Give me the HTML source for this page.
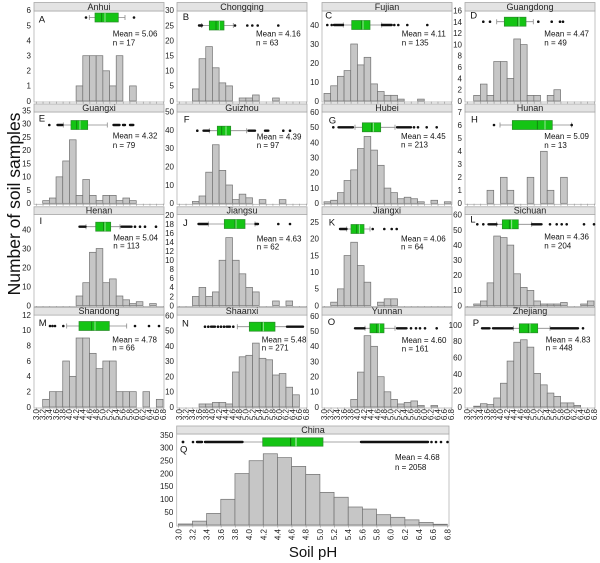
<!DOCTYPE html>
<html><head><meta charset="utf-8"><style>
html,body{margin:0;padding:0;background:#fff;}
svg{display:block;font-family:"Liberation Sans",Arial,sans-serif;}
.b rect{fill:#c6c6c6;stroke:#707070;stroke-width:0.7;}
.fr{fill:none;stroke:#b4b4b4;stroke-width:0.8;}
.st{fill:#e3e3e3;stroke:#a8a8a8;stroke-width:0.8;}
.stt{font-size:9px;fill:#222;text-anchor:middle;}
.yl text{font-size:8px;fill:#222;text-anchor:end;}
.xl text{font-size:8px;fill:#222;text-anchor:end;}
.lt{font-size:9.5px;fill:#111;}
.mt{font-size:8px;fill:#111;}
.wk{stroke:#8a8a8a;stroke-width:0.8;fill:none;}
.bx{fill:#14c414;stroke:#2a8a2a;stroke-width:0.7;}
.md{stroke:#0d7a0d;stroke-width:0.8;}
.mn{stroke:#b8f0b8;stroke-width:0.8;}
.o circle{fill:#111;}
.o line{stroke:#111;stroke-width:2.4;stroke-linecap:round;}
.tk{stroke:#999;stroke-width:2;stroke-dasharray:0.7 5.984;}
</style></head><body>
<svg width="600" height="563" viewBox="0 0 600 563" xmlns="http://www.w3.org/2000/svg">

<!-- Y axis title -->
<text transform="translate(20,204) rotate(-90)" font-size="17.5" text-anchor="middle" fill="#111">Number of soil samples</text>
<text x="313" y="557" font-size="15" text-anchor="middle" fill="#111">Soil pH</text>

<!-- ================= ROW 1 ================= -->
<rect class="fr" x="34" y="11" width="130" height="91"/>
<rect class="fr" x="177" y="11" width="130" height="91"/>
<rect class="fr" x="322" y="11" width="130" height="91"/>
<rect class="fr" x="465" y="11" width="130" height="91"/>
<rect class="st" x="34" y="2.5" width="130" height="8.5"/>
<rect class="st" x="177" y="2.5" width="130" height="8.5"/>
<rect class="st" x="322" y="2.5" width="130" height="8.5"/>
<rect class="st" x="465" y="2.5" width="130" height="8.5"/>
<text class="stt" x="99" y="9.8">Anhui</text>
<text class="stt" x="242" y="9.8">Chongqing</text>
<text class="stt" x="387" y="9.8">Fujian</text>
<text class="stt" x="530" y="9.8">Guangdong</text>

<!-- A Anhui -->
<g transform="translate(36,101)">
<line class="tk" x1="0" y1="1.5" x2="128" y2="1.5"/>
<g class="b">
<rect x="40.10" y="-15.1" width="6.68" height="15.1"/>
<rect x="46.79" y="-45.3" width="6.68" height="45.3"/>
<rect x="53.47" y="-45.3" width="6.68" height="45.3"/>
<rect x="60.16" y="-45.3" width="6.68" height="45.3"/>
<rect x="66.84" y="-30.2" width="6.68" height="30.2"/>
<rect x="73.52" y="-15.1" width="6.68" height="15.1"/>
<rect x="80.21" y="-45.3" width="6.68" height="45.3"/>
<rect x="93.58" y="-15.1" width="6.68" height="15.1"/>
</g>
<g class="yl">
<text x="-5" y="2.8">0</text><text x="-5" y="-12.3">1</text><text x="-5" y="-27.4">2</text><text x="-5" y="-42.5">3</text><text x="-5" y="-57.6">4</text><text x="-5" y="-72.7">5</text><text x="-5" y="-87.8">6</text>
</g>
</g>
<text class="lt" x="38.7" y="22.6">A</text>
<path class="wk" d="M89.3 17.5H95M118.3 17.5H125M89.3 15V20M125 15V20"/>
<rect class="bx" x="95" y="13" width="23.3" height="9"/>
<line class="md" x1="101.7" y1="13" x2="101.7" y2="22"/><line class="mn" x1="105" y1="13" x2="105" y2="22"/>
<g class="o"><circle cx="86" cy="17.5" r="1.3"/><circle cx="134" cy="17.5" r="1.3"/></g>
<text class="mt" x="112.7" y="36.3">Mean = 5.06</text><text class="mt" x="112.7" y="45.3">n = 17</text>

<!-- B Chongqing -->
<g transform="translate(179,101)">
<line class="tk" x1="0" y1="1.5" x2="128" y2="1.5"/>
<g class="b">
<rect x="13.37" y="-12.08" width="6.68" height="12.08"/>
<rect x="20.05" y="-42.28" width="6.68" height="42.28"/>
<rect x="26.74" y="-54.36" width="6.68" height="54.36"/>
<rect x="33.42" y="-33.22" width="6.68" height="33.22"/>
<rect x="40.10" y="-18.12" width="6.68" height="18.12"/>
<rect x="46.79" y="-15.1" width="6.68" height="15.1"/>
<rect x="60.16" y="-3.02" width="6.68" height="3.02"/>
<rect x="66.84" y="-3.02" width="6.68" height="3.02"/>
<rect x="73.52" y="-6.04" width="6.68" height="6.04"/>
<rect x="93.58" y="-3.02" width="6.68" height="3.02"/>
</g>
<g class="yl">
<text x="-5" y="2.8">0</text><text x="-5" y="-12.3">5</text><text x="-5" y="-27.4">10</text><text x="-5" y="-42.5">15</text><text x="-5" y="-57.6">20</text><text x="-5" y="-72.7">25</text><text x="-5" y="-87.8">30</text>
</g>
</g>
<text class="lt" x="182.7" y="20">B</text>
<path class="wk" d="M201.7 25.5H209.3M224 25.5H233.3M201.7 23V28M233.3 23V28"/>
<rect class="bx" x="209.3" y="21" width="14.7" height="9"/>
<line class="md" x1="216" y1="21" x2="216" y2="30"/><line class="mn" x1="219.3" y1="21" x2="219.3" y2="30"/>
<g class="o"><line x1="199" y1="25.5" x2="202" y2="25.5"/><circle cx="235" cy="25.5" r="1.3"/><circle cx="247.3" cy="25.5" r="1.3"/><circle cx="252.3" cy="25.5" r="1.3"/><circle cx="257.7" cy="25.5" r="1.3"/><circle cx="278.3" cy="25.5" r="1.3"/></g>
<text class="mt" x="256" y="36.3">Mean = 4.16</text><text class="mt" x="256" y="45.7">n = 63</text>

<!-- C Fujian -->
<g transform="translate(324,101)">
<line class="tk" x1="0" y1="1.5" x2="128" y2="1.5"/>
<g class="b">
<rect x="0" y="-7.6" width="6.68" height="7.6"/>
<rect x="6.68" y="-15.2" width="6.68" height="15.2"/>
<rect x="13.37" y="-24.7" width="6.68" height="24.7"/>
<rect x="20.05" y="-30.4" width="6.68" height="30.4"/>
<rect x="26.74" y="-57" width="6.68" height="57"/>
<rect x="33.42" y="-36.1" width="6.68" height="36.1"/>
<rect x="40.10" y="-43.7" width="6.68" height="43.7"/>
<rect x="46.79" y="-17.1" width="6.68" height="17.1"/>
<rect x="53.47" y="-9.5" width="6.68" height="9.5"/>
<rect x="60.16" y="-5.7" width="6.68" height="5.7"/>
<rect x="66.84" y="-5.7" width="6.68" height="5.7"/>
<rect x="73.52" y="-1.9" width="6.68" height="1.9"/>
<rect x="93.58" y="-1.9" width="6.68" height="1.9"/>
</g>
<g class="yl">
<text x="-5" y="2.8">0</text><text x="-5" y="-16.2">10</text><text x="-5" y="-35.2">20</text><text x="-5" y="-54.2">30</text><text x="-5" y="-73.2">40</text>
</g>
</g>
<text class="lt" x="325.3" y="18.3">C</text>
<path class="wk" d="M343.3 25H351.7M370 25H381.7M343.3 22.5V27.5M381.7 22.5V27.5"/>
<rect class="bx" x="351.7" y="20.5" width="18.3" height="9"/>
<line class="md" x1="361.7" y1="20.5" x2="361.7" y2="29.5"/><line class="mn" x1="363" y1="20.5" x2="363" y2="29.5"/>
<g class="o"><circle cx="327.3" cy="25" r="1.3"/><circle cx="331.7" cy="25" r="1.3"/><line x1="334" y1="25" x2="343" y2="25"/><line x1="382" y1="25" x2="391.7" y2="25"/><circle cx="394.3" cy="25" r="1.3"/><circle cx="398.3" cy="25" r="1.3"/><circle cx="407.3" cy="25" r="1.3"/><circle cx="427.3" cy="25" r="1.3"/></g>
<text class="mt" x="401.7" y="36.3">Mean = 4.11</text><text class="mt" x="401.7" y="45.7">n = 135</text>

<!-- D Guangdong -->
<g transform="translate(467,101)">
<line class="tk" x1="0" y1="1.5" x2="128" y2="1.5"/>
<g class="b">
<rect x="6.68" y="-5.64" width="6.68" height="5.64"/>
<rect x="13.37" y="-16.92" width="6.68" height="16.92"/>
<rect x="20.05" y="-5.64" width="6.68" height="5.64"/>
<rect x="26.74" y="-39.48" width="6.68" height="39.48"/>
<rect x="33.42" y="-39.48" width="6.68" height="39.48"/>
<rect x="40.10" y="-22.56" width="6.68" height="22.56"/>
<rect x="46.79" y="-62.04" width="6.68" height="62.04"/>
<rect x="53.47" y="-56.4" width="6.68" height="56.4"/>
<rect x="60.16" y="-5.64" width="6.68" height="5.64"/>
<rect x="66.84" y="-5.64" width="6.68" height="5.64"/>
<rect x="80.21" y="-5.64" width="6.68" height="5.64"/>
<rect x="86.89" y="-11.28" width="6.68" height="11.28"/>
</g>
<g class="yl">
<text x="-5" y="2.8">0</text><text x="-5" y="-8.48">2</text><text x="-5" y="-19.76">4</text><text x="-5" y="-31.04">6</text><text x="-5" y="-42.32">8</text><text x="-5" y="-53.6">10</text><text x="-5" y="-64.88">12</text><text x="-5" y="-76.16">14</text><text x="-5" y="-87.44">16</text>
</g>
</g>
<text class="lt" x="470.3" y="18.3">D</text>
<path class="wk" d="M496.7 21.7H504.3M526 21.7H533.3M496.7 19.2V24.2M533.3 19.2V24.2"/>
<rect class="bx" x="504.3" y="17.2" width="21.7" height="9"/>
<line class="md" x1="517.7" y1="17.2" x2="517.7" y2="26.2"/><line class="mn" x1="519" y1="17.2" x2="519" y2="26.2"/>
<g class="o"><circle cx="483.3" cy="21.7" r="1.3"/><circle cx="490" cy="21.7" r="1.3"/><circle cx="538.3" cy="21.7" r="1.3"/><circle cx="551.7" cy="21.7" r="1.3"/><circle cx="560" cy="21.7" r="1.3"/><circle cx="563" cy="21.7" r="1.3"/></g>
<text class="mt" x="544.3" y="36.3">Mean = 4.47</text><text class="mt" x="544.3" y="45.7">n = 49</text>

<!-- ================= ROW 2 ================= -->
<rect class="fr" x="34" y="112" width="130" height="92.3"/>
<rect class="fr" x="177" y="112" width="130" height="92.3"/>
<rect class="fr" x="322" y="112" width="130" height="92.3"/>
<rect class="fr" x="465" y="112" width="130" height="92.3"/>
<rect class="st" x="34" y="104" width="130" height="8"/>
<rect class="st" x="177" y="104" width="130" height="8"/>
<rect class="st" x="322" y="104" width="130" height="8"/>
<rect class="st" x="465" y="104" width="130" height="8"/>
<text class="stt" x="99" y="111">Guangxi</text>
<text class="stt" x="242" y="111">Guizhou</text>
<text class="stt" x="387" y="111">Hubei</text>
<text class="stt" x="530" y="111">Hunan</text>

<!-- E Guangxi -->
<g transform="translate(36,203.3)">
<line class="tk" x1="0" y1="1.5" x2="128" y2="1.5"/>
<g class="b">
<rect x="6.68" y="-2.65" width="6.68" height="2.65"/>
<rect x="13.37" y="-5.29" width="6.68" height="5.29"/>
<rect x="20.05" y="-26.46" width="6.68" height="26.46"/>
<rect x="26.74" y="-42.34" width="6.68" height="42.34"/>
<rect x="33.42" y="-63.5" width="6.68" height="63.5"/>
<rect x="40.10" y="-7.94" width="6.68" height="7.94"/>
<rect x="46.79" y="-23.81" width="6.68" height="23.81"/>
<rect x="53.47" y="-7.94" width="6.68" height="7.94"/>
<rect x="60.16" y="-2.65" width="6.68" height="2.65"/>
<rect x="66.84" y="-7.94" width="6.68" height="7.94"/>
<rect x="73.52" y="-7.94" width="6.68" height="7.94"/>
<rect x="80.21" y="-2.65" width="6.68" height="2.65"/>
<rect x="86.89" y="-5.29" width="6.68" height="5.29"/>
<rect x="93.58" y="-2.65" width="6.68" height="2.65"/>
</g>
<g class="yl">
<text x="-5" y="2.8">0</text><text x="-5" y="-10.43">5</text><text x="-5" y="-23.66">10</text><text x="-5" y="-36.89">15</text><text x="-5" y="-50.12">20</text><text x="-5" y="-63.35">25</text><text x="-5" y="-76.58">30</text><text x="-5" y="-89.81">35</text>
</g>
</g>
<text class="lt" x="38.7" y="121.6">E</text>
<path class="wk" d="M63.3 125H71M87.7 125H107.3M63.3 122.5V127.5M107.3 122.5V127.5"/>
<rect class="bx" x="71" y="120.5" width="16.7" height="9"/>
<line class="md" x1="76.7" y1="120.5" x2="76.7" y2="129.5"/><line class="mn" x1="80" y1="120.5" x2="80" y2="129.5"/>
<g class="o"><circle cx="49.3" cy="125" r="1.3"/><line x1="57.5" y1="125" x2="62.5" y2="125"/><line x1="113.5" y1="125" x2="119.5" y2="125"/><line x1="123" y1="125" x2="125" y2="125"/><line x1="130" y1="125" x2="133.3" y2="125"/></g>
<text class="mt" x="112.7" y="138.7">Mean = 4.32</text><text class="mt" x="112.7" y="148">n = 79</text>

<!-- F Guizhou -->
<g transform="translate(179,203.3)">
<line class="tk" x1="0" y1="1.5" x2="128" y2="1.5"/>
<g class="b">
<rect x="13.37" y="-1.83" width="6.68" height="1.83"/>
<rect x="20.05" y="-7.32" width="6.68" height="7.32"/>
<rect x="26.74" y="-31.11" width="6.68" height="31.11"/>
<rect x="33.42" y="-58.56" width="6.68" height="58.56"/>
<rect x="40.10" y="-32.94" width="6.68" height="32.94"/>
<rect x="46.79" y="-18.3" width="6.68" height="18.3"/>
<rect x="53.47" y="-3.66" width="6.68" height="3.66"/>
<rect x="60.16" y="-9.15" width="6.68" height="9.15"/>
<rect x="66.84" y="-5.49" width="6.68" height="5.49"/>
<rect x="80.21" y="-3.66" width="6.68" height="3.66"/>
<rect x="100.26" y="-3.66" width="6.68" height="3.66"/>
</g>
<g class="yl">
<text x="-5" y="2.8">0</text><text x="-5" y="-15.5">10</text><text x="-5" y="-33.8">20</text><text x="-5" y="-52.1">30</text><text x="-5" y="-70.4">40</text><text x="-5" y="-88.7">50</text>
</g>
</g>
<text class="lt" x="183.7" y="122.6">F</text>
<path class="wk" d="M209.3 130.7H217.3M230.7 130.7H246.7M209.3 128.2V133.2M246.7 128.2V133.2"/>
<rect class="bx" x="217.3" y="126.2" width="13.4" height="9"/>
<line class="md" x1="221.7" y1="126.2" x2="221.7" y2="135.2"/><line class="mn" x1="226" y1="126.2" x2="226" y2="135.2"/>
<g class="o"><circle cx="197.3" cy="130.7" r="1.3"/><line x1="203.5" y1="130.7" x2="209" y2="130.7"/><line x1="248.5" y1="130.7" x2="255" y2="130.7"/><line x1="265" y1="130.7" x2="268.3" y2="130.7"/><circle cx="283.3" cy="130.7" r="1.3"/><circle cx="290" cy="130.7" r="1.3"/></g>
<text class="mt" x="256.7" y="139.7">Mean = 4.39</text><text class="mt" x="256.7" y="148">n = 97</text>

<!-- G Hubei -->
<g transform="translate(324,203.3)">
<line class="tk" x1="0" y1="1.5" x2="128" y2="1.5"/>
<g class="b">
<rect x="0" y="-1.52" width="6.68" height="1.52"/>
<rect x="6.68" y="-3.04" width="6.68" height="3.04"/>
<rect x="13.37" y="-10.64" width="6.68" height="10.64"/>
<rect x="20.05" y="-22.8" width="6.68" height="22.8"/>
<rect x="26.74" y="-33.44" width="6.68" height="33.44"/>
<rect x="33.42" y="-54.72" width="6.68" height="54.72"/>
<rect x="40.10" y="-66.88" width="6.68" height="66.88"/>
<rect x="46.79" y="-53.2" width="6.68" height="53.2"/>
<rect x="53.47" y="-38" width="6.68" height="38"/>
<rect x="60.16" y="-15.2" width="6.68" height="15.2"/>
<rect x="66.84" y="-10.64" width="6.68" height="10.64"/>
<rect x="73.52" y="-4.56" width="6.68" height="4.56"/>
<rect x="80.21" y="-6.08" width="6.68" height="6.08"/>
<rect x="86.89" y="-4.56" width="6.68" height="4.56"/>
<rect x="93.58" y="-1.52" width="6.68" height="1.52"/>
<rect x="106.94" y="-3.04" width="6.68" height="3.04"/>
<rect x="120.31" y="-1.52" width="6.68" height="1.52"/>
</g>
<g class="yl">
<text x="-5" y="2.8">0</text><text x="-5" y="-12.4">10</text><text x="-5" y="-27.6">20</text><text x="-5" y="-42.8">30</text><text x="-5" y="-58">40</text><text x="-5" y="-73.2">50</text><text x="-5" y="-88.4">60</text>
</g>
</g>
<text class="lt" x="328.7" y="123.3">G</text>
<path class="wk" d="M355 127.3H362.3M380.7 127.3H395M355 124.8V129.8M395 124.8V129.8"/>
<rect class="bx" x="362.3" y="122.8" width="18.4" height="9"/>
<line class="md" x1="371.7" y1="122.8" x2="371.7" y2="131.8"/><line class="mn" x1="373.3" y1="122.8" x2="373.3" y2="131.8"/>
<g class="o"><circle cx="333.3" cy="127.3" r="1.3"/><line x1="338.5" y1="127.3" x2="353" y2="127.3"/><line x1="397" y1="127.3" x2="411" y2="127.3"/><circle cx="414" cy="127.3" r="1.3"/><circle cx="418" cy="127.3" r="1.3"/><circle cx="426.7" cy="127.3" r="1.3"/><circle cx="436.7" cy="127.3" r="1.3"/></g>
<text class="mt" x="401" y="139">Mean = 4.45</text><text class="mt" x="401" y="147.3">n = 213</text>

<!-- H Hunan -->
<g transform="translate(467,203.3)">
<line class="tk" x1="0" y1="1.5" x2="128" y2="1.5"/>
<g class="b">
<rect x="20.05" y="-13" width="6.68" height="13"/>
<rect x="33.42" y="-26" width="6.68" height="26"/>
<rect x="40.10" y="-13" width="6.68" height="13"/>
<rect x="60.16" y="-26" width="6.68" height="26"/>
<rect x="73.52" y="-52" width="6.68" height="52"/>
<rect x="80.21" y="-13" width="6.68" height="13"/>
<rect x="93.58" y="-26" width="6.68" height="26"/>
</g>
<g class="yl">
<text x="-5" y="2.8">0</text><text x="-5" y="-10.2">1</text><text x="-5" y="-23.2">2</text><text x="-5" y="-36.2">3</text><text x="-5" y="-49.2">4</text><text x="-5" y="-62.2">5</text><text x="-5" y="-75.2">6</text><text x="-5" y="-88.2">7</text>
</g>
</g>
<text class="lt" x="471" y="122.3">H</text>
<path class="wk" d="M500 125H512.3M552.3 125H571.7M500 122.5V127.5M571.7 122.5V127.5"/>
<rect class="bx" x="512.3" y="120.5" width="40" height="9"/>
<line class="md" x1="537.3" y1="120.5" x2="537.3" y2="129.5"/><line class="mn" x1="545" y1="120.5" x2="545" y2="129.5"/>
<g class="o"><circle cx="494" cy="125" r="1.3"/><circle cx="571.7" cy="125" r="1.3"/></g>
<text class="mt" x="544.3" y="139">Mean = 5.09</text><text class="mt" x="544.3" y="148">n = 13</text>

<!-- ================= ROW 3 ================= -->
<rect class="fr" x="34" y="214.5" width="130" height="92"/>
<rect class="fr" x="177" y="214.5" width="130" height="92"/>
<rect class="fr" x="322" y="214.5" width="130" height="92"/>
<rect class="fr" x="465" y="214.5" width="130" height="92"/>
<rect class="st" x="34" y="206.8" width="130" height="7.8"/>
<rect class="st" x="177" y="206.8" width="130" height="7.8"/>
<rect class="st" x="322" y="206.8" width="130" height="7.8"/>
<rect class="st" x="465" y="206.8" width="130" height="7.8"/>
<text class="stt" x="99" y="213.6">Henan</text>
<text class="stt" x="242" y="213.6">Jiangsu</text>
<text class="stt" x="387" y="213.6">Jiangxi</text>
<text class="stt" x="530" y="213.6">Sichuan</text>

<!-- I Henan -->
<g transform="translate(36,305.5)">
<line class="tk" x1="0" y1="1.5" x2="128" y2="1.5"/>
<g class="b">
<rect x="40.10" y="-9.5" width="6.68" height="9.5"/>
<rect x="46.79" y="-22.8" width="6.68" height="22.8"/>
<rect x="53.47" y="-53.2" width="6.68" height="53.2"/>
<rect x="60.16" y="-57" width="6.68" height="57"/>
<rect x="66.84" y="-22.8" width="6.68" height="22.8"/>
<rect x="73.52" y="-26.6" width="6.68" height="26.6"/>
<rect x="80.21" y="-9.5" width="6.68" height="9.5"/>
<rect x="86.89" y="-5.7" width="6.68" height="5.7"/>
<rect x="93.58" y="-1.9" width="6.68" height="1.9"/>
<rect x="100.26" y="-3.8" width="6.68" height="3.8"/>
<rect x="113.63" y="-1.9" width="6.68" height="1.9"/>
</g>
<g class="yl">
<text x="-5" y="2.8">0</text><text x="-5" y="-16.2">10</text><text x="-5" y="-35.2">20</text><text x="-5" y="-54.2">30</text><text x="-5" y="-73.2">40</text>
</g>
</g>
<text class="lt" x="39.5" y="224">I</text>
<path class="wk" d="M86 226.7H95.7M110.7 226.7H120M86 224.2V229.2M120 224.2V229.2"/>
<rect class="bx" x="95.7" y="222.2" width="15" height="9"/>
<line class="md" x1="103.7" y1="222.2" x2="103.7" y2="231.2"/><line class="mn" x1="105" y1="222.2" x2="105" y2="231.2"/>
<g class="o"><line x1="79.5" y1="226.7" x2="85.5" y2="226.7"/><line x1="121.5" y1="226.7" x2="131.5" y2="226.7"/><circle cx="135" cy="226.7" r="1.3"/><circle cx="140" cy="226.7" r="1.3"/><circle cx="145" cy="226.7" r="1.3"/><circle cx="156" cy="226.7" r="1.3"/></g>
<text class="mt" x="113.3" y="240.7">Mean = 5.04</text><text class="mt" x="113.3" y="248.7">n = 113</text>

<!-- J Jiangsu -->
<g transform="translate(179,305.5)">
<line class="tk" x1="0" y1="1.5" x2="128" y2="1.5"/>
<g class="b">
<rect x="13.37" y="-9.05" width="6.68" height="9.05"/>
<rect x="20.05" y="-18.1" width="6.68" height="18.1"/>
<rect x="26.74" y="-9.05" width="6.68" height="9.05"/>
<rect x="33.42" y="-13.58" width="6.68" height="13.58"/>
<rect x="40.10" y="-45.25" width="6.68" height="45.25"/>
<rect x="46.79" y="-67.88" width="6.68" height="67.88"/>
<rect x="53.47" y="-45.25" width="6.68" height="45.25"/>
<rect x="60.16" y="-31.68" width="6.68" height="31.68"/>
<rect x="66.84" y="-18.1" width="6.68" height="18.1"/>
<rect x="73.52" y="-13.58" width="6.68" height="13.58"/>
<rect x="93.58" y="-4.53" width="6.68" height="4.53"/>
<rect x="106.94" y="-4.53" width="6.68" height="4.53"/>
</g>
<g class="yl">
<text x="-5" y="2.8">0</text><text x="-5" y="-6.25">2</text><text x="-5" y="-15.3">4</text><text x="-5" y="-24.35">6</text><text x="-5" y="-33.4">8</text><text x="-5" y="-42.45">10</text><text x="-5" y="-51.5">12</text><text x="-5" y="-60.55">14</text><text x="-5" y="-69.6">16</text><text x="-5" y="-78.65">18</text><text x="-5" y="-87.7">20</text>
</g>
</g>
<text class="lt" x="183" y="226">J</text>
<path class="wk" d="M208.3 224H224.3M245 224H255M208.3 221.5V226.5M255 221.5V226.5"/>
<rect class="bx" x="224.3" y="219.5" width="20.7" height="9"/>
<line class="md" x1="235" y1="219.5" x2="235" y2="228.5"/><line class="mn" x1="236" y1="219.5" x2="236" y2="228.5"/>
<g class="o"><line x1="198.5" y1="224" x2="207.5" y2="224"/><line x1="255.5" y1="224" x2="258" y2="224"/><circle cx="278.3" cy="224" r="1.3"/><circle cx="290" cy="224" r="1.3"/></g>
<text class="mt" x="256.7" y="241.3">Mean = 4.63</text><text class="mt" x="256.7" y="249.7">n = 62</text>

<!-- K Jiangxi -->
<g transform="translate(324,305.5)">
<line class="tk" x1="0" y1="1.5" x2="128" y2="1.5"/>
<g class="b">
<rect x="6.68" y="-3.33" width="6.68" height="3.33"/>
<rect x="13.37" y="-16.65" width="6.68" height="16.65"/>
<rect x="20.05" y="-49.95" width="6.68" height="49.95"/>
<rect x="26.74" y="-63.27" width="6.68" height="63.27"/>
<rect x="33.42" y="-39.96" width="6.68" height="39.96"/>
<rect x="40.10" y="-23.31" width="6.68" height="23.31"/>
<rect x="53.47" y="-3.33" width="6.68" height="3.33"/>
<rect x="60.16" y="-6.66" width="6.68" height="6.66"/>
<rect x="66.84" y="-6.66" width="6.68" height="6.66"/>
</g>
<g class="yl">
<text x="-5" y="2.8">0</text><text x="-5" y="-13.85">5</text><text x="-5" y="-30.5">10</text><text x="-5" y="-47.15">15</text><text x="-5" y="-63.8">20</text><text x="-5" y="-80.45">25</text>
</g>
</g>
<text class="lt" x="328.7" y="225.6">K</text>
<path class="wk" d="M346.7 229H351M364 229H370M346.7 226.5V231.5M370 226.5V231.5"/>
<rect class="bx" x="351" y="224.5" width="13" height="9"/>
<line class="md" x1="356.7" y1="224.5" x2="356.7" y2="233.5"/><line class="mn" x1="359.3" y1="224.5" x2="359.3" y2="233.5"/>
<g class="o"><line x1="340" y1="229" x2="346.5" y2="229"/><circle cx="372.7" cy="229" r="1.3"/><circle cx="384.3" cy="229" r="1.3"/><circle cx="391.7" cy="229" r="1.3"/><circle cx="396.7" cy="229" r="1.3"/></g>
<text class="mt" x="401" y="241.3">Mean = 4.06</text><text class="mt" x="401" y="249.7">n = 64</text>

<!-- L Sichuan -->
<g transform="translate(467,305.5)">
<line class="tk" x1="0" y1="1.5" x2="128" y2="1.5"/>
<g class="b">
<rect x="6.68" y="-1.51" width="6.68" height="1.51"/>
<rect x="13.37" y="-4.53" width="6.68" height="4.53"/>
<rect x="20.05" y="-22.65" width="6.68" height="22.65"/>
<rect x="26.74" y="-69.46" width="6.68" height="69.46"/>
<rect x="33.42" y="-67.95" width="6.68" height="67.95"/>
<rect x="40.10" y="-60.4" width="6.68" height="60.4"/>
<rect x="46.79" y="-31.71" width="6.68" height="31.71"/>
<rect x="53.47" y="-18.12" width="6.68" height="18.12"/>
<rect x="60.16" y="-15.1" width="6.68" height="15.1"/>
<rect x="66.84" y="-4.53" width="6.68" height="4.53"/>
<rect x="73.52" y="-1.51" width="6.68" height="1.51"/>
<rect x="80.21" y="-1.51" width="6.68" height="1.51"/>
<rect x="86.89" y="-1.51" width="6.68" height="1.51"/>
<rect x="93.58" y="-3.02" width="6.68" height="3.02"/>
<rect x="113.63" y="-1.51" width="6.68" height="1.51"/>
<rect x="120.31" y="-4.53" width="6.68" height="4.53"/>
</g>
<g class="yl">
<text x="-5" y="2.8">0</text><text x="-5" y="-12.3">10</text><text x="-5" y="-27.4">20</text><text x="-5" y="-42.5">30</text><text x="-5" y="-57.6">40</text><text x="-5" y="-72.7">50</text><text x="-5" y="-87.8">60</text>
</g>
</g>
<text class="lt" x="470.3" y="222.6">L</text>
<path class="wk" d="M496.7 224.3H502.3M518.3 224.3H531.7M496.7 221.8V226.8M531.7 221.8V226.8"/>
<rect class="bx" x="502.3" y="219.8" width="16" height="9"/>
<line class="md" x1="509.3" y1="219.8" x2="509.3" y2="228.8"/><line class="mn" x1="511.7" y1="219.8" x2="511.7" y2="228.8"/>
<g class="o"><circle cx="477.3" cy="224.3" r="1.3"/><circle cx="483.3" cy="224.3" r="1.3"/><line x1="488.5" y1="224.3" x2="496.5" y2="224.3"/><line x1="532" y1="224.3" x2="541.5" y2="224.3"/><circle cx="550" cy="224.3" r="1.3"/><circle cx="556.7" cy="224.3" r="1.3"/><circle cx="561.7" cy="224.3" r="1.3"/><circle cx="566.7" cy="224.3" r="1.3"/><circle cx="584" cy="224.3" r="1.3"/><circle cx="594" cy="224.3" r="1.3"/></g>
<text class="mt" x="544.3" y="239.7">Mean = 4.36</text><text class="mt" x="544.3" y="248.7">n = 204</text>

<!-- ================= ROW 4 ================= -->
<rect class="fr" x="34" y="315" width="130" height="93"/>
<rect class="fr" x="177" y="315" width="130" height="93"/>
<rect class="fr" x="322" y="315" width="130" height="93"/>
<rect class="fr" x="465" y="315" width="130" height="93"/>
<rect class="st" x="34" y="307.3" width="130" height="7.8"/>
<rect class="st" x="177" y="307.3" width="130" height="7.8"/>
<rect class="st" x="322" y="307.3" width="130" height="7.8"/>
<rect class="st" x="465" y="307.3" width="130" height="7.8"/>
<text class="stt" x="99" y="314.1">Shandong</text>
<text class="stt" x="242" y="314.1">Shaanxi</text>
<text class="stt" x="387" y="314.1">Yunnan</text>
<text class="stt" x="530" y="314.1">Zhejiang</text>

<!-- M Shandong -->
<g transform="translate(36,407)">
<line class="tk" x1="0" y1="1.5" x2="128" y2="1.5"/>
<g class="b">
<rect x="6.68" y="-7.67" width="6.68" height="7.67"/>
<rect x="13.37" y="-15.33" width="6.68" height="15.33"/>
<rect x="20.05" y="-15.33" width="6.68" height="15.33"/>
<rect x="26.74" y="-46" width="6.68" height="46"/>
<rect x="33.42" y="-30.67" width="6.68" height="30.67"/>
<rect x="40.10" y="-69" width="6.68" height="69"/>
<rect x="46.79" y="-69" width="6.68" height="69"/>
<rect x="53.47" y="-53.67" width="6.68" height="53.67"/>
<rect x="60.16" y="-38.33" width="6.68" height="38.33"/>
<rect x="66.84" y="-46" width="6.68" height="46"/>
<rect x="73.52" y="-46" width="6.68" height="46"/>
<rect x="80.21" y="-15.33" width="6.68" height="15.33"/>
<rect x="86.89" y="-15.33" width="6.68" height="15.33"/>
<rect x="93.58" y="-15.33" width="6.68" height="15.33"/>
<rect x="106.94" y="-15.33" width="6.68" height="15.33"/>
<rect x="120.31" y="-7.67" width="6.68" height="7.67"/>
</g>
<g class="yl">
<text x="-5" y="2.8">0</text><text x="-5" y="-12.53">2</text><text x="-5" y="-27.86">4</text><text x="-5" y="-43.19">6</text><text x="-5" y="-58.52">8</text><text x="-5" y="-73.85">10</text><text x="-5" y="-89.18">12</text>
</g>
</g>
<text class="lt" x="38.7" y="326">M</text>
<path class="wk" d="M66.7 326H79M109.3 326H126.7M66.7 323.5V328.5M126.7 323.5V328.5"/>
<rect class="bx" x="79" y="321.5" width="30.3" height="9"/>
<line class="md" x1="91.7" y1="321.5" x2="91.7" y2="330.5"/><line class="mn" x1="95" y1="321.5" x2="95" y2="330.5"/>
<g class="o"><circle cx="50" cy="326" r="1.3"/><circle cx="52.5" cy="326" r="1.3"/><circle cx="55" cy="326" r="1.3"/><circle cx="63.3" cy="326" r="1.3"/><circle cx="135" cy="326" r="1.3"/><circle cx="149" cy="326" r="1.3"/><circle cx="159" cy="326" r="1.3"/></g>
<text class="mt" x="112.3" y="342.3">Mean = 4.78</text><text class="mt" x="112.3" y="350.3">n = 66</text>

<!-- N Shaanxi -->
<g transform="translate(179,407)">
<line class="tk" x1="0" y1="1.5" x2="128" y2="1.5"/>
<g class="b">
<rect x="20.05" y="-3.04" width="6.68" height="3.04"/>
<rect x="26.74" y="-3.04" width="6.68" height="3.04"/>
<rect x="33.42" y="-4.57" width="6.68" height="4.57"/>
<rect x="40.10" y="-4.57" width="6.68" height="4.57"/>
<rect x="46.79" y="-3.04" width="6.68" height="3.04"/>
<rect x="53.47" y="-35" width="6.68" height="35"/>
<rect x="60.16" y="-50.2" width="6.68" height="50.2"/>
<rect x="66.84" y="-51.7" width="6.68" height="51.7"/>
<rect x="73.52" y="-63.9" width="6.68" height="63.9"/>
<rect x="80.21" y="-48.7" width="6.68" height="48.7"/>
<rect x="86.89" y="-47.2" width="6.68" height="47.2"/>
<rect x="93.58" y="-32" width="6.68" height="32"/>
<rect x="100.26" y="-33.5" width="6.68" height="33.5"/>
<rect x="106.94" y="-19.8" width="6.68" height="19.8"/>
<rect x="113.63" y="-12.2" width="6.68" height="12.2"/>
</g>
<g class="yl">
<text x="-5" y="2.8">0</text><text x="-5" y="-12.42">10</text><text x="-5" y="-27.64">20</text><text x="-5" y="-42.86">30</text><text x="-5" y="-58.08">40</text><text x="-5" y="-73.3">50</text><text x="-5" y="-88.52">60</text>
</g>
</g>
<text class="lt" x="182" y="326.6">N</text>
<path class="wk" d="M237.3 326.7H249.3M275 326.7H286M237.3 324.2V329.2"/>
<rect class="bx" x="249.3" y="322.2" width="25.7" height="9"/>
<line class="md" x1="261.7" y1="322.2" x2="261.7" y2="331.2"/><line class="mn" x1="263.3" y1="322.2" x2="263.3" y2="331.2"/>
<g class="o"><circle cx="205" cy="326.7" r="1.3"/><circle cx="208.3" cy="326.7" r="1.3"/><line x1="211" y1="326.7" x2="215" y2="326.7"/><circle cx="218" cy="326.7" r="1.3"/><circle cx="221" cy="326.7" r="1.3"/><circle cx="224" cy="326.7" r="1.3"/><line x1="226.5" y1="326.7" x2="230" y2="326.7"/><circle cx="233.3" cy="326.7" r="1.3"/><line x1="287" y1="326.7" x2="303" y2="326.7"/></g>
<text class="mt" x="261.7" y="342.3">Mean = 5.48</text><text class="mt" x="261.7" y="350.3">n = 271</text>

<!-- O Yunnan -->
<g transform="translate(324,407)">
<line class="tk" x1="0" y1="1.5" x2="128" y2="1.5"/>
<g class="b">
<rect x="26.74" y="-7.58" width="6.68" height="7.58"/>
<rect x="33.42" y="-34.9" width="6.68" height="34.9"/>
<rect x="40.10" y="-71.3" width="6.68" height="71.3"/>
<rect x="46.79" y="-60.7" width="6.68" height="60.7"/>
<rect x="53.47" y="-30.3" width="6.68" height="30.3"/>
<rect x="60.16" y="-15.2" width="6.68" height="15.2"/>
<rect x="66.84" y="-7.58" width="6.68" height="7.58"/>
<rect x="73.52" y="-3.03" width="6.68" height="3.03"/>
<rect x="80.21" y="-4.55" width="6.68" height="4.55"/>
<rect x="86.89" y="-6.07" width="6.68" height="6.07"/>
<rect x="93.58" y="-1.52" width="6.68" height="1.52"/>
<rect x="106.94" y="-1.52" width="6.68" height="1.52"/>
</g>
<g class="yl">
<text x="-5" y="2.8">0</text><text x="-5" y="-12.37">10</text><text x="-5" y="-27.54">20</text><text x="-5" y="-42.71">30</text><text x="-5" y="-57.88">40</text><text x="-5" y="-73.05">50</text><text x="-5" y="-88.22">60</text>
</g>
</g>
<text class="lt" x="327.7" y="325">O</text>
<path class="wk" d="M365 328.3H370M384 328.3H395M365 325.8V330.8M395 325.8V330.8"/>
<rect class="bx" x="370" y="323.8" width="14" height="9"/>
<line class="md" x1="376.7" y1="323.8" x2="376.7" y2="332.8"/><line class="mn" x1="379.3" y1="323.8" x2="379.3" y2="332.8"/>
<g class="o"><line x1="355" y1="328.3" x2="364.5" y2="328.3"/><line x1="397" y1="328.3" x2="406.5" y2="328.3"/><circle cx="411" cy="328.3" r="1.3"/><circle cx="416" cy="328.3" r="1.3"/><circle cx="420" cy="328.3" r="1.3"/><circle cx="425" cy="328.3" r="1.3"/><circle cx="436.7" cy="328.3" r="1.3"/></g>
<text class="mt" x="401.7" y="343">Mean = 4.60</text><text class="mt" x="401.7" y="351.3">n = 161</text>

<!-- P Zhejiang -->
<g transform="translate(467,407)">
<line class="tk" x1="0" y1="1.5" x2="128" y2="1.5"/>
<g class="b">
<rect x="6.68" y="-0.82" width="6.68" height="0.82"/>
<rect x="13.37" y="-3.28" width="6.68" height="3.28"/>
<rect x="20.05" y="-2.46" width="6.68" height="2.46"/>
<rect x="26.74" y="-9.02" width="6.68" height="9.02"/>
<rect x="33.42" y="-23.78" width="6.68" height="23.78"/>
<rect x="40.10" y="-45.92" width="6.68" height="45.92"/>
<rect x="46.79" y="-64.78" width="6.68" height="64.78"/>
<rect x="53.47" y="-67.24" width="6.68" height="67.24"/>
<rect x="60.16" y="-59.86" width="6.68" height="59.86"/>
<rect x="66.84" y="-33.62" width="6.68" height="33.62"/>
<rect x="73.52" y="-22.14" width="6.68" height="22.14"/>
<rect x="80.21" y="-13.94" width="6.68" height="13.94"/>
<rect x="86.89" y="-10.66" width="6.68" height="10.66"/>
<rect x="93.58" y="-4.1" width="6.68" height="4.1"/>
<rect x="100.26" y="-4.1" width="6.68" height="4.1"/>
<rect x="106.94" y="-1.64" width="6.68" height="1.64"/>
</g>
<g class="yl">
<text x="-5" y="2.8">0</text><text x="-5" y="-13.6">20</text><text x="-5" y="-30">40</text><text x="-5" y="-46.4">60</text><text x="-5" y="-62.8">80</text><text x="-5" y="-79.2">100</text>
</g>
</g>
<text class="lt" x="472.7" y="326">P</text>
<path class="wk" d="M513.3 328.3H519.3M537.7 328.3H550M513.3 325.8V330.8M550 325.8V330.8"/>
<rect class="bx" x="519.3" y="323.8" width="18.4" height="9"/>
<line class="md" x1="528.3" y1="323.8" x2="528.3" y2="332.8"/><line class="mn" x1="530" y1="323.8" x2="530" y2="332.8"/>
<g class="o"><line x1="482" y1="328.3" x2="489.5" y2="328.3"/><line x1="493" y1="328.3" x2="512.5" y2="328.3"/><line x1="551" y1="328.3" x2="578" y2="328.3"/><circle cx="583" cy="328.3" r="1.3"/></g>
<text class="mt" x="545.7" y="342.3">Mean = 4.83</text><text class="mt" x="545.7" y="350.7">n = 448</text>

<!-- X tick labels row 4 -->
<g class="xl" transform="translate(38.8,409)">
<text transform="translate(0,0) rotate(-90)">3.0</text><text transform="translate(6.68,0) rotate(-90)">3.2</text><text transform="translate(13.37,0) rotate(-90)">3.4</text><text transform="translate(20.05,0) rotate(-90)">3.6</text><text transform="translate(26.74,0) rotate(-90)">3.8</text><text transform="translate(33.42,0) rotate(-90)">4.0</text><text transform="translate(40.10,0) rotate(-90)">4.2</text><text transform="translate(46.79,0) rotate(-90)">4.4</text><text transform="translate(53.47,0) rotate(-90)">4.6</text><text transform="translate(60.16,0) rotate(-90)">4.8</text><text transform="translate(66.84,0) rotate(-90)">5.0</text><text transform="translate(73.52,0) rotate(-90)">5.2</text><text transform="translate(80.21,0) rotate(-90)">5.4</text><text transform="translate(86.89,0) rotate(-90)">5.6</text><text transform="translate(93.58,0) rotate(-90)">5.8</text><text transform="translate(100.26,0) rotate(-90)">6.0</text><text transform="translate(106.94,0) rotate(-90)">6.2</text><text transform="translate(113.63,0) rotate(-90)">6.4</text><text transform="translate(120.31,0) rotate(-90)">6.6</text><text transform="translate(127,0) rotate(-90)">6.8</text>
</g>
<g class="xl" transform="translate(181.8,409)">
<text transform="translate(0,0) rotate(-90)">3.0</text><text transform="translate(6.68,0) rotate(-90)">3.2</text><text transform="translate(13.37,0) rotate(-90)">3.4</text><text transform="translate(20.05,0) rotate(-90)">3.6</text><text transform="translate(26.74,0) rotate(-90)">3.8</text><text transform="translate(33.42,0) rotate(-90)">4.0</text><text transform="translate(40.10,0) rotate(-90)">4.2</text><text transform="translate(46.79,0) rotate(-90)">4.4</text><text transform="translate(53.47,0) rotate(-90)">4.6</text><text transform="translate(60.16,0) rotate(-90)">4.8</text><text transform="translate(66.84,0) rotate(-90)">5.0</text><text transform="translate(73.52,0) rotate(-90)">5.2</text><text transform="translate(80.21,0) rotate(-90)">5.4</text><text transform="translate(86.89,0) rotate(-90)">5.6</text><text transform="translate(93.58,0) rotate(-90)">5.8</text><text transform="translate(100.26,0) rotate(-90)">6.0</text><text transform="translate(106.94,0) rotate(-90)">6.2</text><text transform="translate(113.63,0) rotate(-90)">6.4</text><text transform="translate(120.31,0) rotate(-90)">6.6</text><text transform="translate(127,0) rotate(-90)">6.8</text>
</g>
<g class="xl" transform="translate(326.8,409)">
<text transform="translate(0,0) rotate(-90)">3.0</text><text transform="translate(6.68,0) rotate(-90)">3.2</text><text transform="translate(13.37,0) rotate(-90)">3.4</text><text transform="translate(20.05,0) rotate(-90)">3.6</text><text transform="translate(26.74,0) rotate(-90)">3.8</text><text transform="translate(33.42,0) rotate(-90)">4.0</text><text transform="translate(40.10,0) rotate(-90)">4.2</text><text transform="translate(46.79,0) rotate(-90)">4.4</text><text transform="translate(53.47,0) rotate(-90)">4.6</text><text transform="translate(60.16,0) rotate(-90)">4.8</text><text transform="translate(66.84,0) rotate(-90)">5.0</text><text transform="translate(73.52,0) rotate(-90)">5.2</text><text transform="translate(80.21,0) rotate(-90)">5.4</text><text transform="translate(86.89,0) rotate(-90)">5.6</text><text transform="translate(93.58,0) rotate(-90)">5.8</text><text transform="translate(100.26,0) rotate(-90)">6.0</text><text transform="translate(106.94,0) rotate(-90)">6.2</text><text transform="translate(113.63,0) rotate(-90)">6.4</text><text transform="translate(120.31,0) rotate(-90)">6.6</text><text transform="translate(127,0) rotate(-90)">6.8</text>
</g>
<g class="xl" transform="translate(469.8,409)">
<text transform="translate(0,0) rotate(-90)">3.0</text><text transform="translate(6.68,0) rotate(-90)">3.2</text><text transform="translate(13.37,0) rotate(-90)">3.4</text><text transform="translate(20.05,0) rotate(-90)">3.6</text><text transform="translate(26.74,0) rotate(-90)">3.8</text><text transform="translate(33.42,0) rotate(-90)">4.0</text><text transform="translate(40.10,0) rotate(-90)">4.2</text><text transform="translate(46.79,0) rotate(-90)">4.4</text><text transform="translate(53.47,0) rotate(-90)">4.6</text><text transform="translate(60.16,0) rotate(-90)">4.8</text><text transform="translate(66.84,0) rotate(-90)">5.0</text><text transform="translate(73.52,0) rotate(-90)">5.2</text><text transform="translate(80.21,0) rotate(-90)">5.4</text><text transform="translate(86.89,0) rotate(-90)">5.6</text><text transform="translate(93.58,0) rotate(-90)">5.8</text><text transform="translate(100.26,0) rotate(-90)">6.0</text><text transform="translate(106.94,0) rotate(-90)">6.2</text><text transform="translate(113.63,0) rotate(-90)">6.4</text><text transform="translate(120.31,0) rotate(-90)">6.6</text><text transform="translate(127,0) rotate(-90)">6.8</text>
</g>

<!-- ================= CHINA ================= -->
<rect class="fr" x="176.7" y="434" width="272.3" height="92"/>
<rect class="st" x="176.7" y="426" width="272.3" height="8"/>
<text class="stt" x="313" y="433">China</text>
<g transform="translate(178.3,525)">
<line x1="0" y1="1.5" x2="270" y2="1.5" stroke="#999" stroke-width="2" stroke-dasharray="0.7 13.46"/>
<g class="b">
<rect x="0" y="-1.03" width="14.16" height="1.03"/>
<rect x="14.16" y="-3.86" width="14.16" height="3.86"/>
<rect x="28.32" y="-11.57" width="14.16" height="11.57"/>
<rect x="42.48" y="-25.71" width="14.16" height="25.71"/>
<rect x="56.64" y="-51.43" width="14.16" height="51.43"/>
<rect x="70.8" y="-64.29" width="14.16" height="64.29"/>
<rect x="84.96" y="-71.23" width="14.16" height="71.23"/>
<rect x="99.12" y="-67.37" width="14.16" height="67.37"/>
<rect x="113.28" y="-58.63" width="14.16" height="58.63"/>
<rect x="127.44" y="-50.66" width="14.16" height="50.66"/>
<rect x="141.6" y="-32.66" width="14.16" height="32.66"/>
<rect x="155.76" y="-27.77" width="14.16" height="27.77"/>
<rect x="169.92" y="-18" width="14.16" height="18"/>
<rect x="184.08" y="-15.94" width="14.16" height="15.94"/>
<rect x="198.24" y="-10.29" width="14.16" height="10.29"/>
<rect x="212.4" y="-7.71" width="14.16" height="7.71"/>
<rect x="226.56" y="-5.14" width="14.16" height="5.14"/>
<rect x="240.72" y="-2.57" width="14.16" height="2.57"/>
<rect x="254.88" y="-0.77" width="14.16" height="0.77"/>
</g>
<g class="yl">
<text x="-5" y="2.8">0</text><text x="-5" y="-10.06">50</text><text x="-5" y="-22.91">100</text><text x="-5" y="-35.77">150</text><text x="-5" y="-48.63">200</text><text x="-5" y="-61.49">250</text><text x="-5" y="-74.34">300</text><text x="-5" y="-87.2">350</text>
</g>
<g class="xl" transform="translate(3,4)" style="font-size:8.5px">
<text transform="translate(0,0) rotate(-90)">3.0</text><text transform="translate(14.16,0) rotate(-90)">3.2</text><text transform="translate(28.32,0) rotate(-90)">3.4</text><text transform="translate(42.48,0) rotate(-90)">3.6</text><text transform="translate(56.64,0) rotate(-90)">3.8</text><text transform="translate(70.8,0) rotate(-90)">4.0</text><text transform="translate(84.96,0) rotate(-90)">4.2</text><text transform="translate(99.12,0) rotate(-90)">4.4</text><text transform="translate(113.28,0) rotate(-90)">4.6</text><text transform="translate(127.44,0) rotate(-90)">4.8</text><text transform="translate(141.6,0) rotate(-90)">5.0</text><text transform="translate(155.76,0) rotate(-90)">5.2</text><text transform="translate(169.92,0) rotate(-90)">5.4</text><text transform="translate(184.08,0) rotate(-90)">5.6</text><text transform="translate(198.24,0) rotate(-90)">5.8</text><text transform="translate(212.4,0) rotate(-90)">6.0</text><text transform="translate(226.56,0) rotate(-90)">6.2</text><text transform="translate(240.72,0) rotate(-90)">6.4</text><text transform="translate(254.88,0) rotate(-90)">6.6</text><text transform="translate(269.04,0) rotate(-90)">6.8</text>
</g>
</g>
<text class="lt" x="180" y="452.5">Q</text>
<path class="wk" d="M243 442H262.7M323 442H360"/>
<rect class="bx" x="262.7" y="437.8" width="60.3" height="8.4"/>
<line x1="290.7" y1="437.8" x2="290.7" y2="446.2" stroke="#0a5a0a" stroke-width="0.9"/><line x1="296" y1="437.8" x2="296" y2="446.2" stroke="#e8ffe8" stroke-width="0.9"/>
<g class="o"><circle cx="183" cy="442" r="1.4"/><circle cx="193" cy="442" r="1.3"/><line x1="197" y1="442" x2="202" y2="442"/><line x1="205" y1="442" x2="242.5" y2="442"/><line x1="361" y1="442" x2="428" y2="442"/><circle cx="431.5" cy="442" r="1.3"/><circle cx="436" cy="442" r="1.3"/><circle cx="441" cy="442" r="1.3"/><circle cx="447.5" cy="442" r="1.3"/></g>
<text class="mt" x="395" y="460">Mean = 4.68</text><text class="mt" x="395" y="470">n = 2058</text>

</svg>
</body></html>
